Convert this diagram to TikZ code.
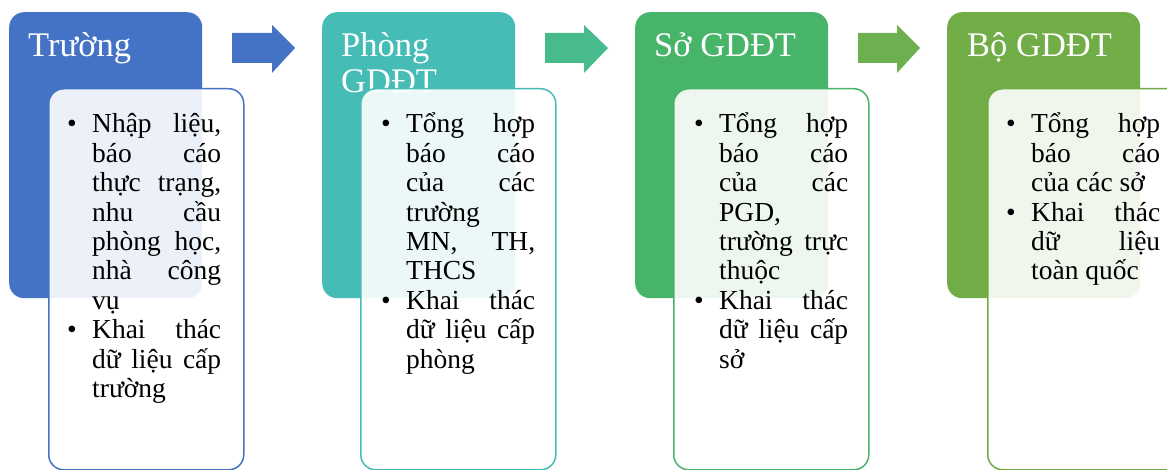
\documentclass[tikz,border=0pt]{standalone}
\usepackage{fontspec}
\setmainfont{Liberation Serif}
\definecolor{c1}{HTML}{4472C4}
\definecolor{c2}{HTML}{45BDB6}
\definecolor{c3}{HTML}{48B46A}
\definecolor{c4}{HTML}{70AD47}
\definecolor{a2}{HTML}{47BB8C}
\definecolor{a3}{HTML}{6CB050}
\newcommand{\bul}{\hangindent=25pt\hangafter=1\noindent\makebox[25pt][l]{\textbullet}\ignorespaces}
\hbadness=10000
\begin{document}
\begin{tikzpicture}[x=1pt,y=-1pt,
  darkbox/.style={fill=#1, rounded corners=15pt, inner sep=0pt, minimum width=193pt, minimum height=286pt, anchor=north west},
  lightbox/.style={draw=#1, line width=1.5pt, fill=white, fill opacity=0.9, rounded corners=15pt, inner sep=0pt, minimum width=195pt, minimum height=381pt, anchor=north west},
  title/.style={text=white, font=\fontsize{34.5}{36}\selectfont, inner sep=0pt, anchor=base west},
  body/.style={font=\fontsize{27.5}{29.4}\selectfont, inner sep=0pt, anchor=base west},
  flow/.style={fill=#1}]
\useasboundingbox (0,0) rectangle (1167,470);
\fill[white] (0,0) rectangle (1167,470);
% panel 1
\node[darkbox=c1] (d1) at (9,12) {};
\node[title] (h1) at (28,57) {Trường};
\node[lightbox=c1] (l1) at (48,88) {};
\node[body] (t1) at (67,133) {\parbox[t]{154pt}{\bul Nhập liệu,\linebreak báo cáo\linebreak thực trạng,\linebreak nhu cầu\linebreak phòng học,\linebreak nhà công\linebreak vụ\par
\bul Khai thác\linebreak dữ liệu cấp\linebreak trường}};
% panel 2
\node[darkbox=c2] (d2) at (322,12) {};
\node[title] (h2) at (341,57) {\parbox[t]{180pt}{Phòng\\GDĐT}};
\node[lightbox=c2] (l2) at (360,88) {};
\node[body] (t2) at (381,133) {\parbox[t]{154pt}{\bul Tổng hợp\linebreak báo cáo\linebreak của các\linebreak trường\linebreak MN, TH,\linebreak THCS\par
\bul Khai thác\linebreak dữ liệu cấp\linebreak phòng}};
% panel 3
\node[darkbox=c3] (d3) at (635,12) {};
\node[title] (h3) at (654,57) {Sở GDĐT};
\node[lightbox=c3] (l3) at (673,88) {};
\node[body] (t3) at (694,133) {\parbox[t]{154pt}{\bul Tổng hợp\linebreak báo cáo\linebreak của các\linebreak PGD,\linebreak trường trực\linebreak thuộc\par
\bul Khai thác\linebreak dữ liệu cấp\linebreak sở}};
% panel 4
\node[darkbox=c4] (d4) at (947,12) {};
\node[title] (h4) at (967,57) {Bộ GDĐT};
\node[lightbox=c4] (l4) at (987,88) {};
\node[body] (t4) at (1006,133) {\parbox[t]{154pt}{\bul Tổng hợp\linebreak báo cáo\linebreak của các sở\par
\bul Khai thác\linebreak dữ liệu\linebreak toàn quốc}};
% arrows
\fill[flow=c1] (232,33) -- (272,33) -- (272,25) -- (295,48) -- (272,73) -- (272,63) -- (232,63) -- cycle;
\fill[flow=a2] (545,33) -- (584,33) -- (584,25) -- (608,48) -- (584,73) -- (584,63) -- (545,63) -- cycle;
\fill[flow=a3] (858,33) -- (897,33) -- (897,25) -- (920,48) -- (897,73) -- (897,63) -- (858,63) -- cycle;
\end{tikzpicture}
\end{document}
